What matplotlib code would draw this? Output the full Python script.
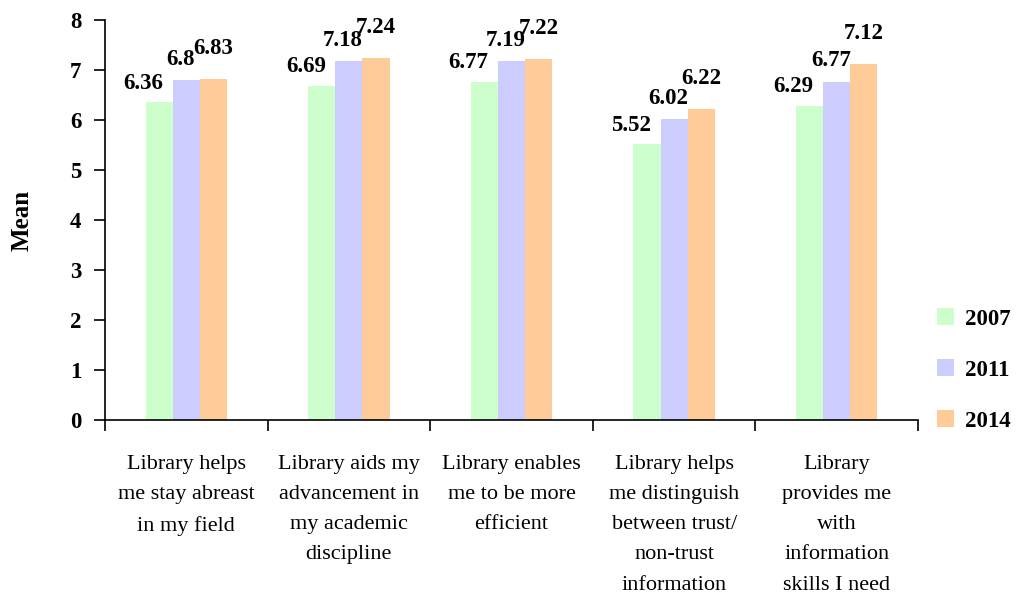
import matplotlib.pyplot as plt
import numpy as np
from matplotlib.ticker import FixedLocator

plt.rcParams['font.family'] = ['Liberation Serif', 'DejaVu Serif']

categories = [
    "Library helps\nme stay abreast\nin my field",
    "Library aids my\nadvancement in\nmy academic\ndiscipline",
    "Library enables\nme to be more\nefficient",
    "Library helps\nme distinguish\nbetween trust/\nnon-trust\ninformation",
    "Library\nprovides me\nwith\ninformation\nskills I need",
]
years = ["2007", "2011", "2014"]
v2007 = [6.36, 6.69, 6.77, 5.52, 6.29]
v2011 = [6.8, 7.18, 7.19, 6.02, 6.77]
v2014 = [6.83, 7.24, 7.22, 6.22, 7.12]

colors = ["#CCFFCC", "#CCCCFF", "#FFCC99"]
# label offsets in pixels (dx, dy) for each series
label_offsets = [(-16, 8), (-6, 10), (0, 20)]

fig = plt.figure(figsize=(10.33, 5.99), dpi=100)
ax = fig.add_axes([105 / 1033, 179 / 599, 813 / 1033, 400 / 599])

x = np.arange(len(categories))
w = 1 / 6
for i, (vals, col) in enumerate(zip([v2007, v2011, v2014], colors)):
    pos = x + (i - 1) * w
    ax.bar(pos, vals, width=w, color=col, label=years[i])
    for px, v in zip(pos, vals):
        ax.annotate(f"{v:g}", xy=(px, v), xytext=label_offsets[i],
                    textcoords="offset pixels", ha="center", va="bottom",
                    fontsize=16.5, fontweight="bold")

ax.set_xlim(-0.5, len(categories) - 0.5)
ax.set_ylim(0, 8)
ax.set_yticks(range(0, 9))
ax.set_xticks(x)
ax.set_xticklabels(categories, fontsize=16, linespacing=1.8)
ax.xaxis.set_minor_locator(FixedLocator(np.arange(-0.5, len(categories), 1)))
ax.tick_params(axis="x", which="major", length=0, pad=25)
ax.tick_params(axis="x", which="minor", length=8, width=1.2, direction="out")
ax.tick_params(axis="y", length=8, width=1.2, direction="out", labelsize=16.5, pad=9)
for t in ax.get_yticklabels():
    t.set_fontweight("bold")

ax.spines["top"].set_visible(False)
ax.spines["right"].set_visible(False)
ax.spines["left"].set_linewidth(1.2)
ax.spines["bottom"].set_linewidth(1.2)

ax.set_ylabel("Mean", fontsize=18, fontweight="bold", labelpad=26)

leg = fig.legend(loc="center left", bbox_to_anchor=(916 / 1033, 1 - 370 / 599),
                 frameon=False, handlelength=0.75, handleheight=0.75,
                 handletextpad=0.5, labelspacing=1.3,
                 prop={"size": 16.5, "weight": "bold"})

fig.savefig("out.png", dpi=100)
